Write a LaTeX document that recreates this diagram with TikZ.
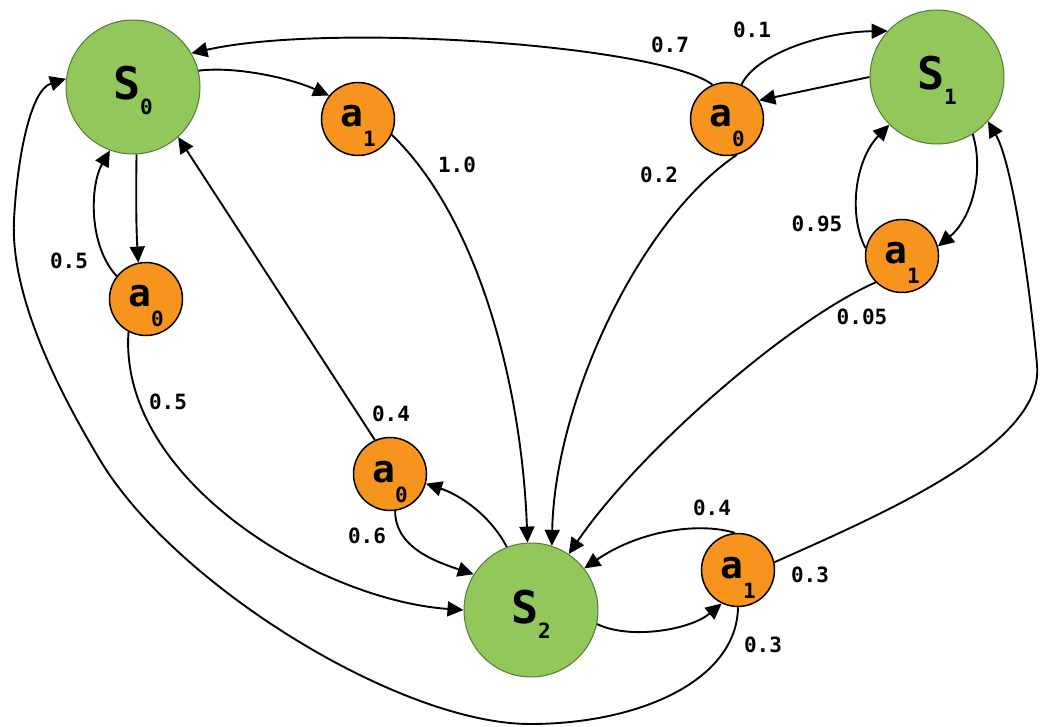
\documentclass[tikz,border=0pt]{standalone}
\usepackage{fontspec}
\newfontfamily\monofam{DejaVu Sans Mono}
\usetikzlibrary{arrows.meta}
\definecolor{sgreen}{RGB}{146,199,91}
\definecolor{sborder}{RGB}{84,124,52}
\definecolor{aorange}{RGB}{247,148,29}
\newcommand\stlab[1]{{\fontsize{45}{45}\selectfont S}\raisebox{-15pt}{\fontsize{21}{21}\selectfont #1}}
\newcommand\aclab[1]{{\fontsize{38}{38}\selectfont a}\raisebox{-20pt}{\fontsize{21}{21}\selectfont #1}}
\begin{document}
\begin{tikzpicture}[x=1pt,y=-1pt,
  state/.style={circle, fill=sgreen, draw=sborder, line width=1pt, minimum size=134pt, inner sep=0pt, text height=41pt, text depth=15pt, font=\monofam\bfseries},
  act/.style={circle, fill=aorange, draw=black, line width=1.5pt, minimum size=73pt, inner sep=0pt, text height=36pt, text depth=20pt, font=\monofam\bfseries},
  edge/.style={line width=1.9pt, -{Triangle[length=16pt,width=15pt]}},
  prob/.style={font=\monofam\bfseries\fontsize{21}{21}\selectfont, inner sep=0pt}
]
\fill[white] (0,0) rectangle (1058,727);
\useasboundingbox (0,0) rectangle (1058,727);

% nodes
\node[state] (S0) at (133,87) {\stlab{0}};
\node[state] (S1) at (937,77) {\stlab{1}};
\node[state] (S2) at (531,610) {\stlab{2}};
\node[act] (A1t) at (358,119) {\aclab{1}};
\node[act] (A0l) at (146,299) {\aclab{0}};
\node[act] (A0r) at (727,119) {\aclab{0}};
\node[act] (A1r) at (902,256) {\aclab{1}};
\node[act] (A0m) at (390,474) {\aclab{0}};
\node[act] (A1b) at (738,570) {\aclab{1}};

% edges from S0
\draw[edge] (S0.14) .. controls (235,66) and (290,78) .. (A1t.141);
\draw[edge] (A1t.-25) .. controls (480,220) and (522,390) .. (S2.93);
\draw[edge] (S0.-87) .. controls (136,190) and (136,225) .. (A0l.102);
\draw[edge] (A0l.142) .. controls (88,245) and (90,185) .. (S0.250);
\draw[edge] (A0l.242) .. controls (118,480) and (320,600) .. (S2.180);

% edges around S1
\draw[edge] (A0r.113) .. controls (660,45) and (330,22) .. (S0.30);
\draw[edge] (A0r.67) .. controls (755,55) and (820,32) .. (S1.137);
\draw[edge] (S1.180) -- (A0r.30);
\draw[edge] (A0r.285) .. controls (640,220) and (555,400) .. (S2.72);
\draw[edge] (S1.-58) .. controls (985,175) and (970,220) .. (A1r.15);
\draw[edge] (A1r.168) .. controls (848,215) and (855,160) .. (S1.225);
\draw[edge] (A1r.225) .. controls (790,320) and (640,450) .. (S2.56);

% edges around S2
\draw[edge] (A1b.95) .. controls (700,522) and (640,530) .. (S2.38);
\draw[edge] (S2.-12) .. controls (630,640) and (690,630) .. (A1b.244);
\draw[edge] (A1b.12) .. controls (880,515) and (1045,445) .. (1037,365)
  .. controls (1031,295) and (1013,164) .. (S1.-41);
\draw[edge] (A1b.270) .. controls (737,680) and (640,724) .. (530,724)
  .. controls (400,724) and (175,585) .. (100,460)
  .. controls (64,400) and (10,300) .. (14,220)
  .. controls (17,160) and (30,90) .. (S0.173);
\draw[edge] (S2.111) .. controls (490,515) and (460,495) .. (A0m.-15);
\draw[edge] (A0m.-82) .. controls (395,545) and (430,560) .. (S2.148);
\draw[edge] (A0m.114) -- (S0.-48);

% probabilities
\node[prob] (p10) at (457,165) {1.0};
\node[prob] (p05a) at (69,261) {0.5};
\node[prob] (p05b) at (168,402) {0.5};
\node[prob] (p07) at (670,45) {0.7};
\node[prob] (p01) at (752,30) {0.1};
\node[prob] (p02) at (659,175) {0.2};
\node[prob] (p095) at (817,224) {0.95};
\node[prob] (p005) at (862,317) {0.05};
\node[prob] (p04a) at (391,414) {0.4};
\node[prob] (p06) at (367,536) {0.6};
\node[prob] (p04b) at (712,508) {0.4};
\node[prob] (p03a) at (810,575) {0.3};
\node[prob] (p03b) at (763,645) {0.3};
\end{tikzpicture}
\end{document}
